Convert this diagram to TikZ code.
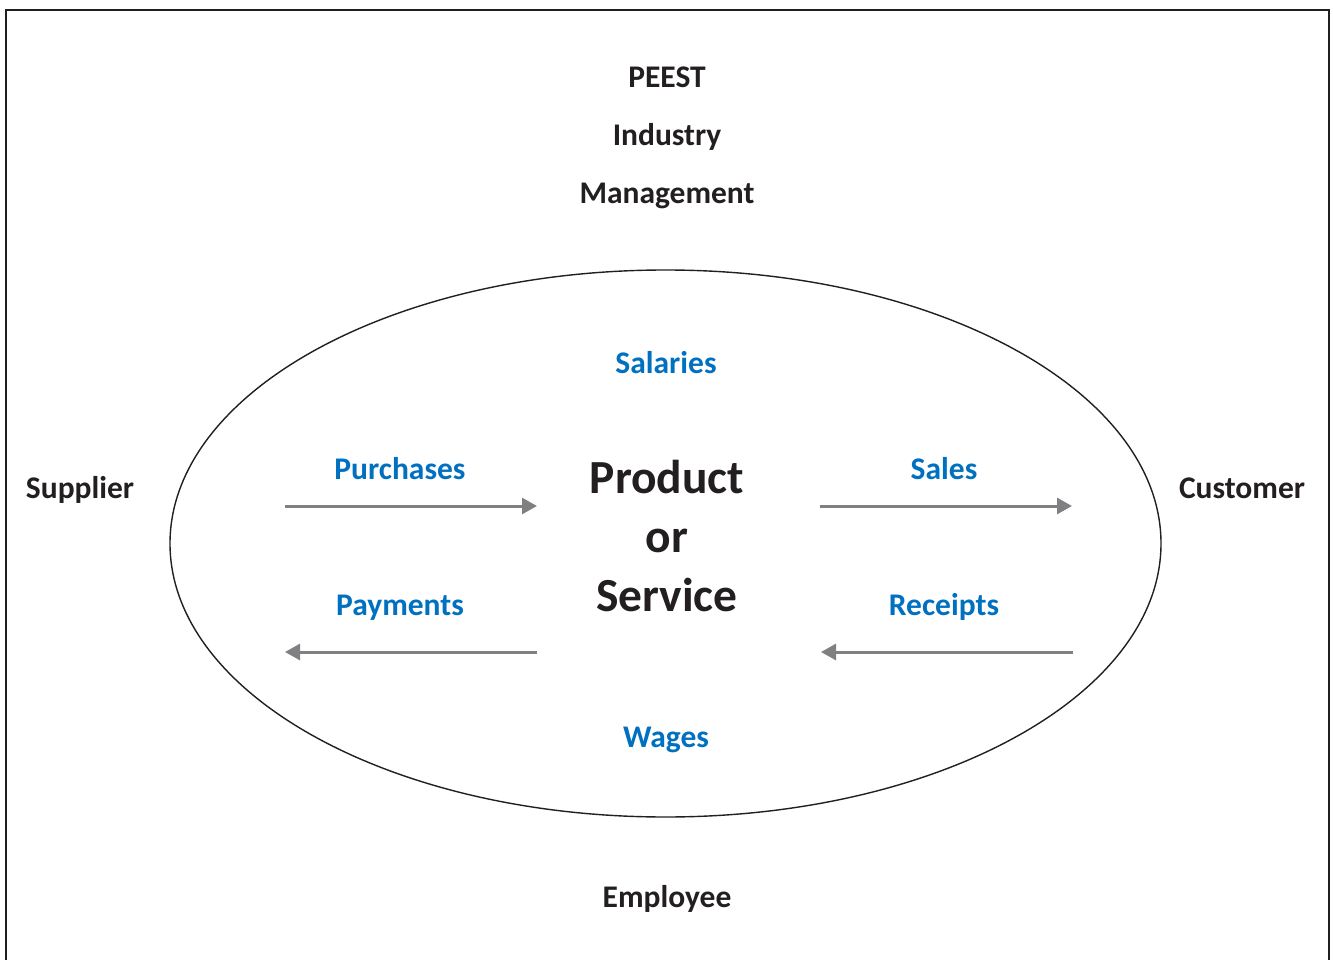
\documentclass[tikz,border=0pt]{standalone}
\usepackage{fontspec}
\setmainfont{Carlito}
\usetikzlibrary{arrows.meta,positioning}
\definecolor{inkblack}{RGB}{35,31,32}
\definecolor{flowblue}{RGB}{0,112,192}
\definecolor{flowgray}{RGB}{128,128,130}

\begin{document}
\begin{tikzpicture}[x=1pt,y=-1pt]
\tikzstyle{every node}+=[inner sep=0pt,anchor=base]
\tikzstyle{party}=[font=\fontsize{31.5}{36}\selectfont\bfseries,text=inkblack]
\tikzstyle{flow}=[font=\fontsize{31.5}{36}\selectfont\bfseries,text=flowblue]
\tikzstyle{core}=[font=\fontsize{47.5}{58}\selectfont\bfseries,text=inkblack,align=center]
\tikzstyle{money}=[draw=flowgray,line width=3pt,-{Triangle[length=15pt,width=16pt]}]
\useasboundingbox (0,0) rectangle (1333,960);
\draw [inkblack,line width=2pt] (6,962) -- (6,10) -- (1329,10) -- (1329,962);
\draw [inkblack,line width=1.4pt] (665.5,543.5) ellipse (495.5 and 273.5);
\node [party] (peest) at (667,88) {PEEST};
\node [party] (industry) at (667,146) {Industry};
\node [party] (management) at (667,204) {Management};
\node [party] (supplier) at (80,498) {Supplier};
\node [party] (customer) at (1242,498) {Customer};
\node [party] (employee) at (667,907) {Employee};
\node [flow] (salaries) at (666,373) {Salaries};
\node [flow] (purchases) at (400,479) {Purchases};
\node [flow] (sales) at (944,479) {Sales};
\node [flow] (payments) at (400,615) {Payments};
\node [flow] (receipts) at (944,615) {Receipts};
\node [flow] (wages) at (666,747) {Wages};
\node [core] (product) at (667,493) {Product};
\node [core] (or) at (667,552) {or};
\node [core] (service) at (667,611) {Service};
\coordinate (buyfrom) at (285,506);
\coordinate (buyto) at (537,506);
\coordinate (sellfrom) at (820,506);
\coordinate (sellto) at (1072,506);
\coordinate (payfrom) at (537,652);
\coordinate (payto) at (285,652);
\coordinate (getfrom) at (1073,652);
\coordinate (getto) at (821,652);
\draw [money] (buyfrom) -- (buyto);
\draw [money] (sellfrom) -- (sellto);
\draw [money] (payfrom) -- (payto);
\draw [money] (getfrom) -- (getto);
\end{tikzpicture}
\end{document}
